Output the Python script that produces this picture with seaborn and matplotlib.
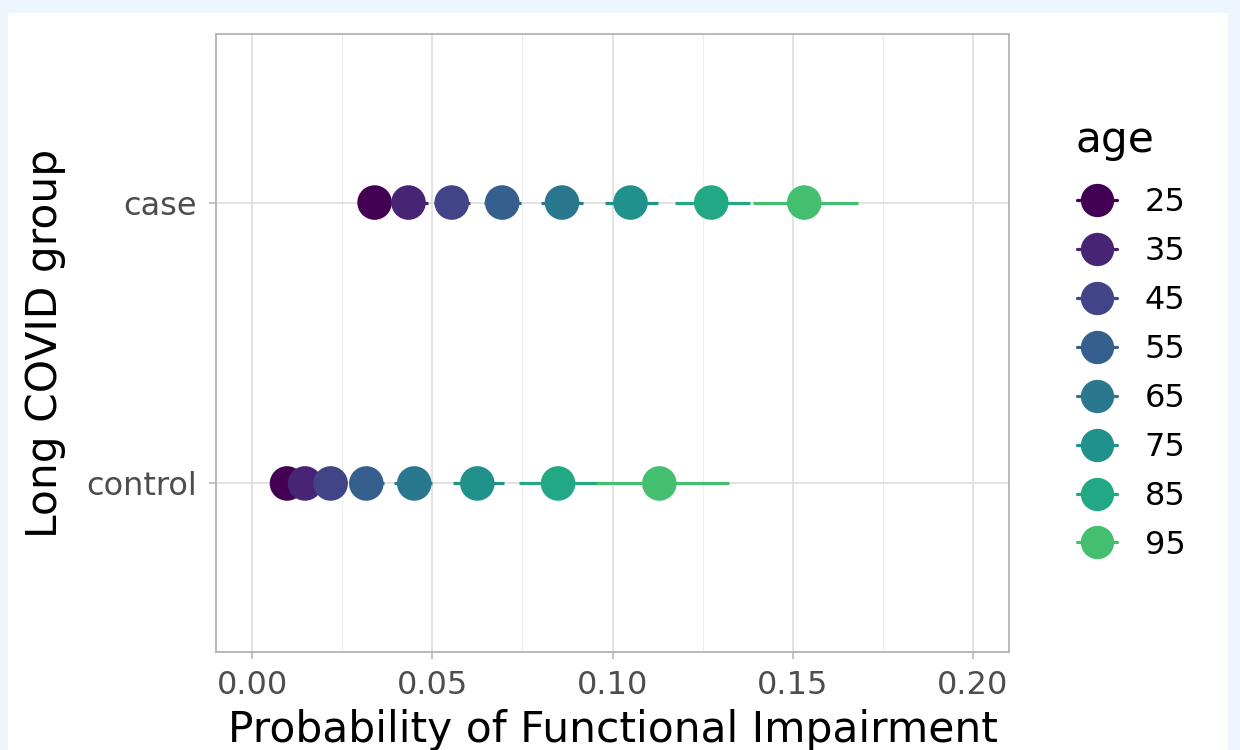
import matplotlib
matplotlib.use("Agg")
import matplotlib.pyplot as plt
from matplotlib.lines import Line2D
from matplotlib.patches import Rectangle
import seaborn as sns
import pandas as pd
import numpy as np

# ---- data ----
ages = [25, 35, 45, 55, 65, 75, 85, 95]
groups = ["control", "case"]

case_est = [0.034, 0.0434, 0.0554, 0.0694, 0.0860, 0.1050, 0.1274, 0.1532]
case_lo = [0.0300, 0.0385, 0.0506, 0.0644, 0.0802, 0.0979, 0.1174, 0.1390]
case_hi = [0.0385, 0.0489, 0.0604, 0.0746, 0.0918, 0.1127, 0.1381, 0.1680]

control_est = [0.0097, 0.0147, 0.0218, 0.0317, 0.0450, 0.0625, 0.0849, 0.1130]
control_lo = [0.0080, 0.0120, 0.0185, 0.0275, 0.0395, 0.0557, 0.0740, 0.0955]
control_hi = [0.0117, 0.0180, 0.0258, 0.0365, 0.0500, 0.0699, 0.0959, 0.1322]

xticks = [0.00, 0.05, 0.10, 0.15, 0.20]
xtick_labels = ["0.00", "0.05", "0.10", "0.15", "0.20"]

df = pd.DataFrame({
    "group": ["case"] * len(ages) + ["control"] * len(ages),
    "age": ages + ages,
    "est": case_est + control_est,
    "lo": case_lo + control_lo,
    "hi": case_hi + control_hi,
})
ypos_map = {g: i for i, g in enumerate(groups)}
df["ypos"] = df["group"].map(ypos_map)

cmap = plt.get_cmap("viridis")
palette = {a: cmap(i / 10) for i, a in enumerate(ages)}

sns.set_style("white")
plt.rcParams["font.family"] = ["DejaVu Sans"]

fig = plt.figure(figsize=(12.4, 7.5), dpi=100)
fig.patch.set_facecolor("#EDF5FD")
fig.add_artist(Rectangle((8 / 1240, 0), 1220 / 1240, 737 / 750,
                         transform=fig.transFigure, facecolor="white",
                         edgecolor="none", zorder=0))

ax = fig.add_axes([216 / 1240, 1 - 652 / 750, 793 / 1240, 618 / 750])
ax.set_facecolor("white")

ax.set_xlim(-0.01, 0.21)
ax.set_ylim(-0.6, 1.6)
ax.set_xticks(xticks)
ax.set_xticklabels(xtick_labels)
ax.set_xticks([0.025, 0.075, 0.125, 0.175], minor=True)
ax.set_yticks([ypos_map[g] for g in groups])
ax.set_yticklabels(groups)
ax.grid(True, which="major", color="#DEDEDE", linewidth=1.2, zorder=0)
ax.grid(True, which="minor", axis="x", color="#EDEDED", linewidth=0.8, zorder=0)
ax.set_axisbelow(True)

# error bars
for i, row in df.iterrows():
    ax.hlines(row["ypos"], row["lo"], row["hi"], colors=[palette[row["age"]]],
              linewidth=2.3, zorder=2)

sns.scatterplot(data=df, x="est", y="ypos", hue="age", palette=palette,
                s=620, edgecolor="none", linewidth=0, legend=False, ax=ax,
                zorder=3)

for sp in ax.spines.values():
    sp.set_color("#B3B3B3")
    sp.set_linewidth(1.3)
ax.tick_params(axis="both", which="major", length=5, width=1.1, color="#B3B3B3",
               labelsize=23, labelcolor="#4D4D4D", pad=8, bottom=True, left=True)
ax.tick_params(axis="y", which="major", pad=9)
ax.tick_params(axis="x", which="minor", length=0)

ax.set_xlabel("Probability of Functional Impairment", fontsize=30.5, color="black",
              labelpad=6)
ax.set_ylabel("Long COVID group", fontsize=30.5, color="black", labelpad=14)

handles = [Line2D([0], [0], color=palette[a], marker="o", markersize=24,
                  linewidth=2.3, markeredgewidth=0) for a in ages]
leg = fig.legend(handles, [str(a) for a in ages],
                 loc="center left", bbox_to_anchor=(1048 / 1240, 1 - 374 / 750),
                 frameon=False, fontsize=23,
                 handlelength=1.25, labelspacing=0.56, handletextpad=0.88)
for t in leg.get_texts():
    t.set_color("black")
fig.text(1075 / 1240, 1 - 140 / 750, "age", fontsize=30.5, color="black",
         ha="left", va="center")

fig.savefig("out.png", dpi=100, facecolor=fig.get_facecolor())
